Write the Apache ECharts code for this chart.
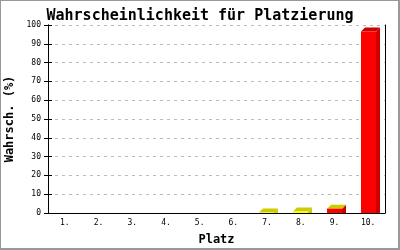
<!DOCTYPE html>
<html><head><meta charset="utf-8">
<script src="https://cdn.jsdelivr.net/npm/echarts@6/dist/echarts.min.js"></script>
<style>html,body{margin:0;padding:0;background:#fff}#c{width:400px;height:250px}</style>
</head><body><div id="c"></div>
<script>
const title = 'Wahrscheinlichkeit für Platzierung';
const categories = ['1.','2.','3.','4.','5.','6.','7.','8.','9.','10.'];
const values = [0, 0, 0, 0, 0, 0, 0.2, 0.8, 2.3, 96.5];
const yTicks = [0,10,20,30,40,50,60,70,80,90,100];
const xName = 'Platz';
const yName = 'Wahrsch. (%)';
// styles per bar (front, top, side)
const frontColors = ['#ffff00','#ffff00','#ffff00','#ffff00','#ffff00','#ffff00','#ffff00','#ffff00','#ff0000','#ff0000'];
const topColors = ['#cccc00','#cccc00','#cccc00','#cccc00','#cccc00','#cccc00','#cccc00','#cccc00','#cccc00','#cc0000'];
const sideColors = ['#cccc00','#cccc00','#cccc00','#cccc00','#cccc00','#cccc00','#cccc00','#cccc00','#cc0000','#cc0000'];

const font = 'DejaVu Sans Mono';
const chart = echarts.init(document.getElementById('c'), null, {renderer:'canvas'});
const seriesData = categories.map((c,i)=>[i, values[i]]);
const yAxisBase = {
  type:'value', min:yTicks[0], max:yTicks[yTicks.length-1], interval:yTicks[1]-yTicks[0],
  axisLine:{show:true, lineStyle:{color:'#000', width:1}},
};
chart.setOption({
  animation:false,
  backgroundColor:'#fff',
  title:{text:title, left:'center', top:4, textStyle:{fontFamily:font, fontSize:15, fontWeight:'bold', color:'#000'}},
  grid:{left:48, right:15, top:25, bottom:37, outerBoundsMode:'none', containLabel:false},
  xAxis:{
    type:'category', data:categories, boundaryGap:true,
    axisLine:{lineStyle:{color:'#000'}}, axisTick:{show:false},
    axisLabel:{fontFamily:font, fontSize:8, color:'#000', margin:6},
    name:xName, nameLocation:'middle', nameGap:21,
    nameTextStyle:{fontFamily:font, fontSize:12, fontWeight:'bold', color:'#000'}
  },
  yAxis:[
    Object.assign({}, yAxisBase, {
      position:'left',
      axisTick:{show:true, inside:false, length:4, lineStyle:{color:'#000'}},
      axisLabel:{fontFamily:font, fontSize:8, color:'#000', margin:7},
      splitLine:{show:true, lineStyle:{color:'#bbb', type:[3,4]}},
      name:yName, nameLocation:'middle', nameGap:32, nameRotate:90,
      nameTextStyle:{fontFamily:font, fontSize:12, fontWeight:'bold', color:'#000'}
    }),
    Object.assign({}, yAxisBase, {
      position:'left', offset:0,
      axisTick:{show:true, inside:true, length:4, lineStyle:{color:'#000'}},
      axisLabel:{show:false}, splitLine:{show:false}
    }),
    Object.assign({}, yAxisBase, {
      position:'right', axisTick:{show:false}, axisLabel:{show:false}, splitLine:{show:false}
    })
  ],
  graphic:[
    {type:'rect', left:0, top:0, shape:{width:400, height:1}, style:{fill:'#999'}},
    {type:'rect', left:0, top:0, shape:{width:1, height:250}, style:{fill:'#999'}},
    {type:'rect', right:0, top:0, shape:{width:2, height:250}, style:{fill:'#999'}},
    {type:'rect', left:0, bottom:0, shape:{width:400, height:2}, style:{fill:'#999'}}
  ],
  series:[{
    type:'custom', yAxisIndex:0,
    data:seriesData,
    renderItem:function(params, api){
      const i = api.value(0), v = api.value(1);
      if (v <= 0) return null;
      const p0 = api.coord([i, 0]);
      const p1 = api.coord([i, v]);
      const bw = api.size([1,0])[0]*0.45;
      const d = 4;
      const x0 = Math.round(p0[0]-bw/2), x1 = x0 + Math.round(bw);
      const yb = p0[1], yt = p1[1];
      return {type:'group', children:[
        {type:'polygon', shape:{points:[[x1,yt],[x1+d,yt-d],[x1+d,yb],[x1,yb]]}, style:{fill:sideColors[i]}},
        {type:'polygon', shape:{points:[[x0,yt],[x0+d,yt-d],[x1+d,yt-d],[x1,yt]]}, style:{fill:topColors[i]}},
        {type:'rect', shape:{x:x0, y:yt, width:x1-x0, height:yb-yt}, style:{fill:frontColors[i]}}
      ]};
    }
  }]
});
</script></body></html>
